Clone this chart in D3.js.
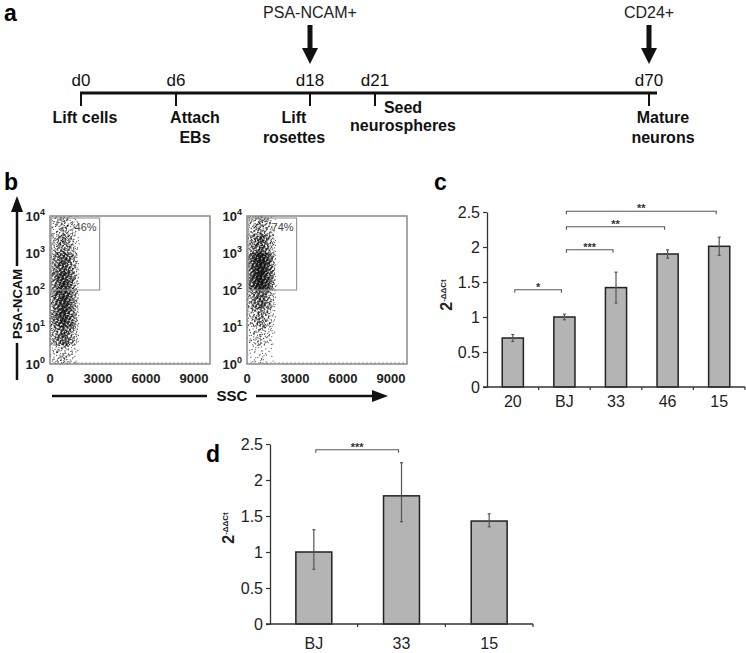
<!DOCTYPE html>
<html>
<head>
<meta charset="utf-8">
<script src="https://cdn.jsdelivr.net/npm/d3@7"></script>
<style>
body { margin: 0; background: #fff; }
svg { display: block; font-family: "Liberation Sans", Arial, sans-serif; }
</style>
</head>
<body>
<svg id="fig" width="746" height="653"></svg>
<script>
// ---- panel a : differentiation timeline
const stageDays = [0, 6, 18, 21, 70];
const stageTicks = ['d0', 'd6', 'd18', 'd21', 'd70'];
const stageLabels = [['Lift cells'], ['Attach', 'EBs'], ['Lift', 'rosettes'], ['Seed', 'neurospheres'], ['Mature', 'neurons']];
const sortDays = [18, 70];
const sortMarkers = ['PSA-NCAM+', 'CD24+'];

// ---- panel b : flow cytometry, events per half decade of PSA-NCAM
const logBins = [0, 0.5, 1, 1.5, 2, 2.5, 3, 3.5];
const eventsLeft = [120, 420, 650, 650, 620, 480, 280, 160];
const eventsRight = [40, 110, 240, 420, 900, 880, 450, 220];
const sscMid = [850, 850];
const sscHalf = [1000, 1000];
const gateSsc = 3100;
const gatePct = ['46%', '74%'];
const sscTicks = [0, 3000, 6000, 9000];
const logTicks = [0, 1, 2, 3, 4];

// ---- panel c
const linesC = ['20', 'BJ', '33', '46', '15'];
const valuesC = [0.70, 1.00, 1.42, 1.90, 2.01];
const errorsC = [0.05, 0.04, 0.22, 0.06, 0.13];
const sigC = [[0, 1, '*', 1.39], [1, 2, '***', 1.96], [1, 3, '**', 2.29], [1, 4, '**', 2.51]];

// ---- panel d
const linesD = ['BJ', '33', '15'];
const valuesD = [1.00, 1.78, 1.43];
const errLowD = [0.76, 1.42, 1.35];
const errHighD = [1.31, 2.24, 1.53];
const sigD = [[0, 1, '***', 2.42]];

const ticksY = [0, 0.5, 1, 1.5, 2, 2.5];

const svg = d3.select('#fig');

function panelLetter(x, y, t) {
    svg.append('text').attr('x', x).attr('y', y)
        .attr('font-size', 23).attr('font-weight', 'bold').text(t);
}

// ================= a
panelLetter(4, 21, 'a');

const tl = d3.scaleLinear().domain(stageDays).range([81, 176, 310, 375, 649]);
const labelDx = [4, 19, -16, 28, 14];

svg.append('line')
    .attr('x1', 80).attr('x2', 657).attr('y1', 93).attr('y2', 93)
    .attr('stroke', '#111').attr('stroke-width', 3);

svg.selectAll('.tltick').data(stageDays).enter().append('line')
    .attr('x1', d => tl(d)).attr('x2', d => tl(d))
    .attr('y1', 93).attr('y2', 106)
    .attr('stroke', '#111').attr('stroke-width', 2);

svg.selectAll('.tlday').data(stageTicks).enter().append('text')
    .attr('x', (d, i) => tl(stageDays[i]))
    .attr('y', 86)
    .attr('text-anchor', 'middle')
    .attr('font-size', 17)
    .attr('fill', '#111')
    .text(d => d);

stageLabels.forEach(function(lines, i) {
    const seed = i == 3;
    lines.forEach(function(t, j) {
        svg.append('text')
            .attr('x', tl(stageDays[i]) + labelDx[i])
            .attr('y', (seed ? 113 : 123) + j * (seed ? 18 : 20))
            .attr('text-anchor', 'middle')
            .attr('font-size', 16).attr('font-weight', 'bold')
            .attr('fill', '#111')
            .text(t);
    });
});

sortDays.forEach(function(d, i) {
    const x = tl(d);
    svg.append('rect').attr('x', x - 2.5).attr('y', 25).attr('width', 5).attr('height', 24).attr('fill', '#111');
    svg.append('path')
        .attr('d', 'M' + (x - 8) + ',48L' + (x + 8) + ',48L' + x + ',64Z')
        .attr('fill', '#111');
    svg.append('text').attr('x', x).attr('y', 18)
        .attr('text-anchor', 'middle').attr('font-size', 16).attr('fill', '#222')
        .text(sortMarkers[i]);
});

// ================= b
panelLetter(4, 190, 'b');

function halton(i, b) {
    let f = 1, r = 0;
    while (i > 0) { f /= b; r += f * (i % b); i = Math.floor(i / b); }
    return r;
}

const plots = [
    { x0: 50, events: eventsLeft, pct: gatePct[0] },
    { x0: 247, events: eventsRight, pct: gatePct[1] }
];

plots.forEach(function(p, pi) {
    const x = d3.scaleLinear().domain([0, 10000]).range([p.x0, p.x0 + 160]);
    const y = d3.scaleLog().domain([1, 1e4]).range([364, 216]);
    const g = svg.append('g');

    // dots: counts per half decade, spread over ssc
    const dots = [];
    let k = 1;
    logBins.forEach(function(b, bi) {
        for (let n = 0; n < p.events[bi]; n++, k++) {
            const u = (halton(k, 2) + halton(k, 5)) / 2;
            dots.push({
                ssc: Math.max(20, sscMid[pi] + sscHalf[pi] * (2 * u - 1)),
                psa: Math.pow(10, b + 0.5 * halton(k, 3))
            });
        }
    });
    g.selectAll('circle').data(dots).enter().append('circle')
        .attr('cx', d => x(d.ssc))
        .attr('cy', d => y(d.psa))
        .attr('r', 0.6)
        .attr('fill', '#111')
        .attr('opacity', 0.75);

    // frame
    g.append('rect')
        .attr('x', x(0)).attr('y', y(1e4))
        .attr('width', x(10000) - x(0)).attr('height', y(1) - y(1e4))
        .attr('fill', 'none').attr('stroke', '#8a8a8a').attr('stroke-width', 1.5);

    // gate
    g.append('rect')
        .attr('x', x(0) + 1).attr('y', y(1e4) + 2)
        .attr('width', x(gateSsc) - x(0) - 1).attr('height', y(100) - y(1e4) - 2)
        .attr('fill', 'none').attr('stroke', '#999').attr('stroke-width', 1.2);

    g.append('text')
        .attr('x', x(gateSsc) - 3).attr('y', y(1e4) + 15)
        .attr('text-anchor', 'end').attr('font-size', 11).attr('fill', '#444')
        .text(p.pct);

    // minor ticks
    g.selectAll('.mx').data(d3.range(250, 10000, 250)).enter().append('line')
        .attr('x1', d => x(d)).attr('x2', d => x(d))
        .attr('y1', y(1)).attr('y2', y(1) - 2)
        .attr('stroke', '#888').attr('stroke-width', 0.8);

    // tick labels
    g.selectAll('.xl').data(sscTicks).enter().append('text')
        .attr('x', d => x(d) + (d == 0 ? 0 : 0))
        .attr('y', 383)
        .attr('text-anchor', 'middle')
        .attr('font-size', 13).attr('font-weight', 'bold').attr('fill', '#222')
        .text(d => d);

    const yl = g.selectAll('.yl').data(logTicks).enter().append('text')
        .attr('x', x(0) - 5)
        .attr('y', d => y(Math.pow(10, d)) + 5)
        .attr('text-anchor', 'end')
        .attr('font-weight', 'bold').attr('fill', '#222');
    yl.append('tspan').attr('font-size', 13).text('10');
    yl.append('tspan').attr('font-size', 9).attr('dy', -6).text(d => d);
});

// SSC arrow
svg.append('line').attr('x1', 52).attr('x2', 207).attr('y1', 396).attr('y2', 396)
    .attr('stroke', '#111').attr('stroke-width', 2.5);
svg.append('line').attr('x1', 256).attr('x2', 374).attr('y1', 396).attr('y2', 396)
    .attr('stroke', '#111').attr('stroke-width', 2.5);
svg.append('path').attr('d', 'M372,390L388,396L372,402Z').attr('fill', '#111');
svg.append('text').attr('x', 232).attr('y', 401).attr('text-anchor', 'middle')
    .attr('font-size', 15).attr('font-weight', 'bold').attr('fill', '#111').text('SSC');

// PSA-NCAM arrow
svg.append('line').attr('x1', 17).attr('x2', 17).attr('y1', 380).attr('y2', 343)
    .attr('stroke', '#111').attr('stroke-width', 2.5);
svg.append('line').attr('x1', 17).attr('x2', 17).attr('y1', 266).attr('y2', 210)
    .attr('stroke', '#111').attr('stroke-width', 2.5);
svg.append('path').attr('d', 'M11,212L17,196L23,212Z').attr('fill', '#111');
svg.append('text').attr('transform', 'translate(22,304) rotate(-90)')
    .attr('text-anchor', 'middle')
    .attr('font-size', 13).attr('font-weight', 'bold').attr('fill', '#111').text('PSA-NCAM');

// ================= bar charts
function barChart(o) {
    const x = d3.scaleBand().domain(o.cats).range(o.xr).paddingInner(0.59).paddingOuter(0.295);
    const y = d3.scaleLinear().domain([0, 2.5]).range(o.yr);
    const g = svg.append('g');

    g.selectAll('.bar').data(o.values).enter().append('rect')
        .attr('x', (d, i) => x(o.cats[i]))
        .attr('y', d => y(d))
        .attr('width', x.bandwidth())
        .attr('height', d => y(0) - y(d))
        .attr('fill', '#b4b4b4').attr('stroke', '#222').attr('stroke-width', 1.5);

    const cx = i => x(o.cats[i]) + x.bandwidth() / 2;
    o.values.forEach(function(v, i) {
        const lo = o.lo[i], hi = o.hi[i];
        g.append('line').attr('x1', cx(i)).attr('x2', cx(i)).attr('y1', y(lo)).attr('y2', y(hi))
            .attr('stroke', '#555').attr('stroke-width', 1.2);
        [lo, hi].forEach(e => g.append('line')
            .attr('x1', cx(i) - 1.5).attr('x2', cx(i) + 1.5).attr('y1', y(e)).attr('y2', y(e))
            .attr('stroke', '#555').attr('stroke-width', 1.2));
    });

    // y axis
    const ax = g.append('g').attr('transform', 'translate(' + o.xr[0] + ',0)')
        .call(d3.axisLeft(y).tickValues(ticksY).tickSize(4).tickSizeOuter(0).tickPadding(3).tickFormat(d => d));
    ax.select('.domain').attr('stroke', '#333').attr('stroke-width', 1.3);
    ax.selectAll('.tick line').attr('stroke', '#333').attr('stroke-width', 1.2);
    ax.selectAll('.tick text').attr('font-size', o.fs).attr('fill', '#222')
        .attr('font-family', '"Liberation Sans", Arial, sans-serif');

    // x axis
    g.append('line').attr('x1', o.xr[0] - 4).attr('x2', o.xr[1]).attr('y1', y(0)).attr('y2', y(0))
        .attr('stroke', '#333').attr('stroke-width', 1.5);
    g.selectAll('.xt').data(d3.range(1, o.cats.length + 1)).enter().append('line')
        .attr('x1', d => o.xr[0] + d * x.step()).attr('x2', d => o.xr[0] + d * x.step())
        .attr('y1', y(0)).attr('y2', y(0) + 3)
        .attr('stroke', '#333').attr('stroke-width', 1.2);
    g.selectAll('.xl').data(o.cats).enter().append('text')
        .attr('x', d => x(d) + x.bandwidth() / 2)
        .attr('y', y(0) + o.catDy)
        .attr('text-anchor', 'middle').attr('font-size', o.fs).attr('fill', '#222')
        .text(d => d);

    // significance brackets
    o.sig.forEach(function(s) {
        const x1 = cx(s[0]) + 2, x2 = cx(s[1]) - 3, yy = y(s[3]);
        g.append('path')
            .attr('d', 'M' + x1 + ',' + (yy + 3) + 'V' + yy + 'H' + x2 + 'V' + (yy + 3))
            .attr('fill', 'none').attr('stroke', '#555').attr('stroke-width', 1.1);
        g.append('text').attr('x', (x1 + x2) / 2).attr('y', yy + 1)
            .attr('text-anchor', 'middle').attr('font-size', 11).attr('font-weight', 'bold')
            .attr('fill', '#333').text(s[2]);
    });

    // y label 2^-ddCt
    const lab = g.append('text')
        .attr('transform', 'translate(' + o.labX + ',' + o.labY + ') rotate(-90)')
        .attr('text-anchor', 'middle').attr('font-weight', 'bold').attr('fill', '#222');
    lab.append('tspan').attr('font-size', 16).text('2');
    lab.append('tspan').attr('font-size', 8).attr('dy', -6).text('-ΔΔCt');
}

panelLetter(434, 190, 'c');
barChart({
    cats: linesC, values: valuesC,
    lo: valuesC.map((v, i) => v - errorsC[i]), hi: valuesC.map((v, i) => v + errorsC[i]),
    sig: sigC, xr: [487, 745], yr: [387, 212], fs: 16, catDy: 20,
    labX: 452, labY: 295
});

panelLetter(206, 462, 'd');
barChart({
    cats: linesD, values: valuesD, lo: errLowD, hi: errHighD,
    sig: sigD, xr: [270, 533], yr: [624, 444], fs: 16, catDy: 25,
    labX: 234, labY: 528
});
</script>
</body>
</html>
